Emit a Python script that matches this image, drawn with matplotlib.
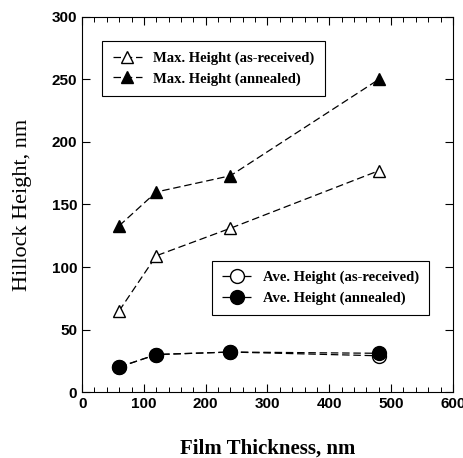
import matplotlib
matplotlib.use("Agg")
import matplotlib.pyplot as plt
from matplotlib.ticker import MultipleLocator

# film thickness (nm)
thickness = [60, 120, 240, 480]

# hillock heights (nm)
max_as_received = [65, 109, 131, 177]
max_annealed = [133, 160, 173, 250]
ave_as_received = [20, 30, 32, 29]
ave_annealed = [20, 30, 32, 31]

fig = plt.figure(figsize=(4.64, 4.58), dpi=100)
ax = fig.add_axes([0.177, 0.144, 0.799, 0.819])

line_kw = dict(color='black', linestyle=(0, (6, 3)), linewidth=0.9)

l1, = ax.plot(thickness, max_as_received, marker='^', markersize=9,
              markerfacecolor='white', markeredgecolor='black', label='Max. Height (as-received)', **line_kw)
l2, = ax.plot(thickness, max_annealed, marker='^', markersize=9,
              markerfacecolor='black', markeredgecolor='black', label='Max. Height (annealed)', **line_kw)
l3, = ax.plot(thickness, ave_as_received, marker='o', markersize=10,
              markerfacecolor='white', markeredgecolor='black', label='Ave. Height (as-received)', **line_kw)
l4, = ax.plot(thickness, ave_annealed, marker='o', markersize=10,
              markerfacecolor='black', markeredgecolor='black', label='Ave. Height (annealed)', **line_kw)

ax.set_xlim(0, 600)
ax.set_ylim(0, 300)
ax.xaxis.set_major_locator(MultipleLocator(100))
ax.xaxis.set_minor_locator(MultipleLocator(20))
ax.yaxis.set_major_locator(MultipleLocator(50))
ax.tick_params(which='both', direction='in', top=True, right=True)
ax.tick_params(which='major', length=6, width=0.8, labelsize=11)
ax.tick_params(which='minor', length=3.5, width=0.7)
for lab in ax.get_xticklabels() + ax.get_yticklabels():
    lab.set_fontweight('bold')
    lab.set_family('Liberation Sans')

ax.set_xlabel('Film Thickness, nm', fontsize=15, labelpad=20,
              family='Liberation Serif', weight='bold')
ax.set_ylabel('Hillock Height, nm', fontsize=16, labelpad=14,
              family='Liberation Serif')

leg_font = {'family': 'Liberation Serif', 'weight': 'bold', 'size': 10.5}
leg1 = ax.legend(handles=[l1, l2], loc='upper left', bbox_to_anchor=(0.035, 0.955),
                 prop=leg_font, fancybox=False, edgecolor='black', framealpha=1,
                 handlelength=2.0, borderpad=0.7)
leg1.get_frame().set_linewidth(0.8)
ax.add_artist(leg1)
leg2 = ax.legend(handles=[l3, l4], loc='upper left', bbox_to_anchor=(0.33, 0.37),
                 prop=leg_font, fancybox=False, edgecolor='black', framealpha=1,
                 handlelength=2.0, borderpad=0.7)
leg2.get_frame().set_linewidth(0.8)

fig.savefig('out.png', dpi=100)
